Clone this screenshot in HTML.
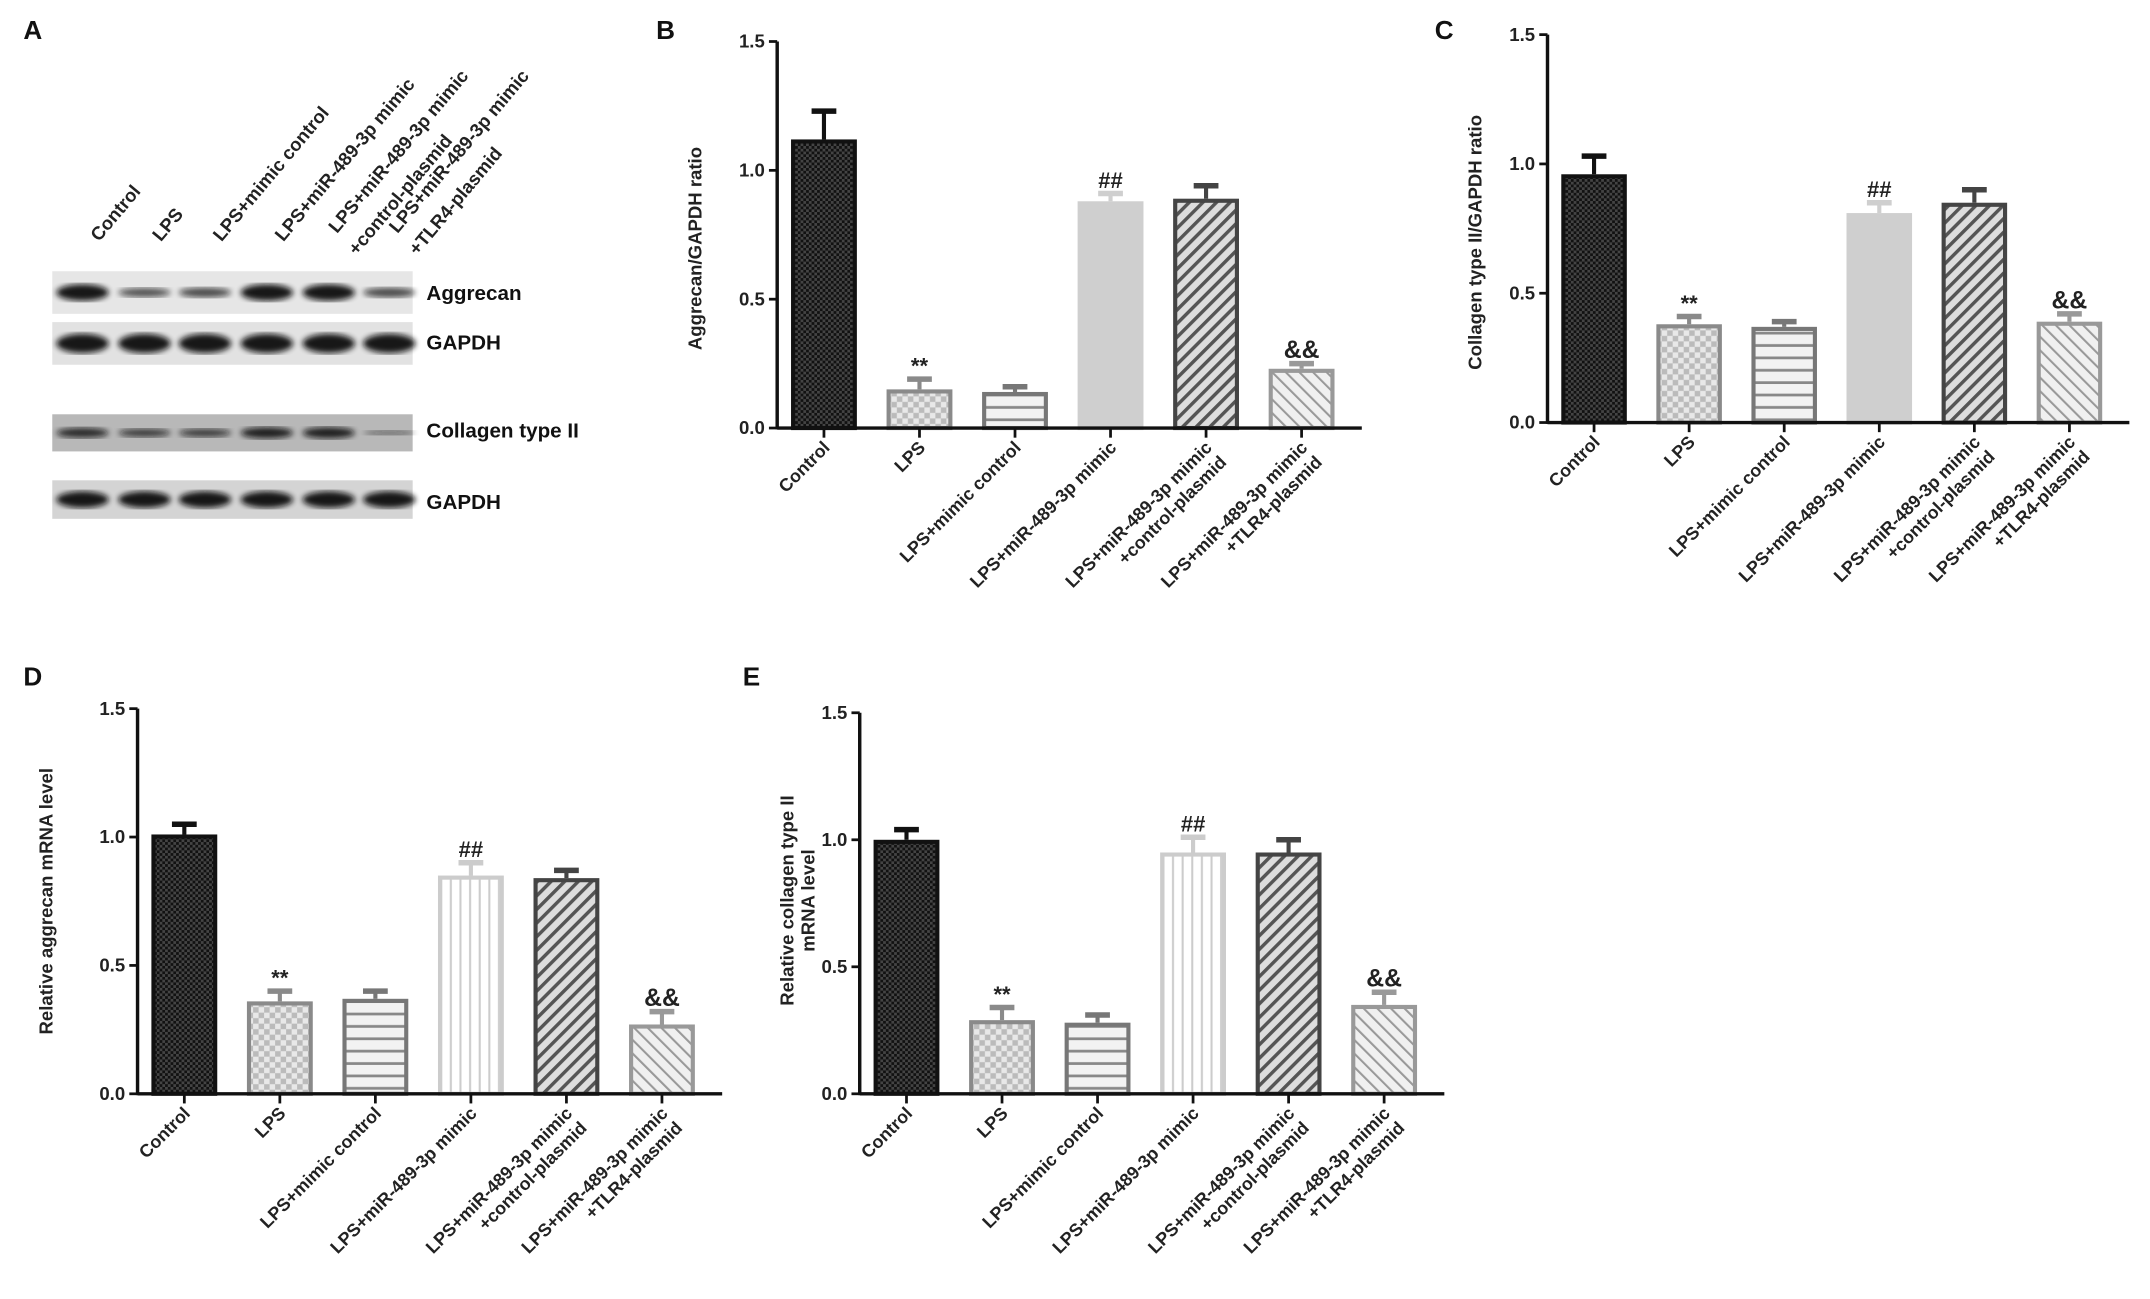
<!DOCTYPE html>
<html><head><meta charset="utf-8">
<style>
html,body{margin:0;padding:0;background:#fff;}
svg{display:block;font-family:"Liberation Sans",Arial,sans-serif;font-weight:bold;}
</style></head>
<body>
<svg id="fig" width="2150" height="1299" viewBox="0 0 1563 944" xmlns="http://www.w3.org/2000/svg">
<defs>
  <pattern id="pDark" patternUnits="userSpaceOnUse" width="4" height="4">
    <rect width="4" height="4" fill="#444"/><rect width="2" height="2" fill="#111"/><rect x="2" y="2" width="2" height="2" fill="#111"/>
  </pattern>
  <pattern id="pCheck" patternUnits="userSpaceOnUse" width="8" height="8">
    <rect width="8" height="8" fill="#bbb"/><rect width="4" height="4" fill="#e8e8e8"/><rect x="4" y="4" width="4" height="4" fill="#e8e8e8"/>
  </pattern>
  <pattern id="pHoriz" patternUnits="userSpaceOnUse" width="8" height="9">
    <rect width="8" height="9" fill="#f2f2f2"/><rect y="7" width="8" height="2" fill="#888"/>
  </pattern>
  <pattern id="pVert" patternUnits="userSpaceOnUse" width="7" height="8">
    <rect width="7" height="8" fill="#fff"/><rect x="5" width="1.5" height="8" fill="#ccc"/>
  </pattern>
  <pattern id="pDiag" patternUnits="userSpaceOnUse" width="7" height="7" patternTransform="rotate(45)">
    <rect width="7" height="7" fill="#ddd"/><rect width="2.5" height="7" fill="#555"/>
  </pattern>
  <pattern id="pBack" patternUnits="userSpaceOnUse" width="7" height="7" patternTransform="rotate(-45)">
    <rect width="7" height="7" fill="#f0f0f0"/><rect width="1.5" height="7" fill="#999"/>
  </pattern>
  <filter id="blur"><feGaussianBlur stdDeviation="2.2"/></filter>
</defs>
</svg>
<script>
const categories = ["Control","LPS","LPS+mimic control","LPS+miR-489-3p mimic","LPS+miR-489-3p mimic|+control-plasmid","LPS+miR-489-3p mimic|+TLR4-plasmid"];
const valuesB = [1.12,0.15,0.14,0.88,0.89,0.23];
const errorsB = [0.11,0.04,0.02,0.03,0.05,0.02];
const valuesC = [0.96,0.38,0.37,0.81,0.85,0.39];
const errorsC = [0.07,0.03,0.02,0.04,0.05,0.03];
const valuesD = [1.01,0.36,0.37,0.85,0.84,0.27];
const errorsD = [0.04,0.04,0.03,0.05,0.03,0.05];
const valuesE = [1.00,0.29,0.28,0.95,0.95,0.35];
const errorsE = [0.04,0.05,0.03,0.06,0.05,0.05];
const yTicks = [0.0,0.5,1.0,1.5];
const yTickLabels = ["0.0","0.5","1.0","1.5"];
const sigMarks = ["","**","","##","","&&"];
const aggrecanBands = [1.0,0.55,0.6,1.0,1.0,0.6];
const gapdhBands1 = [1,1,1,1,1,1];
const collagenBands = [0.8,0.65,0.65,0.9,0.9,0.35];
const gapdhBands2 = [1,1,1,1,1,1];

const NS="http://www.w3.org/2000/svg";
const svg=document.getElementById('fig');
function el(tag,attrs,parent){const e=document.createElementNS(NS,tag);for(const k in attrs)e.setAttribute(k,attrs[k]);(parent||svg).appendChild(e);return e;}
function txt(s,attrs,parent){const t=el('text',attrs,parent);t.textContent=s;return t;}

const styles=[
 {fill:"url(#pDark)",stroke:"#111"},
 {fill:"url(#pCheck)",stroke:"#8a8a8a"},
 {fill:"url(#pHoriz)",stroke:"#777"},
 {fill:"#cfcfcf",stroke:"#cfcfcf"},
 {fill:"url(#pDiag)",stroke:"#444"},
 {fill:"url(#pBack)",stroke:"#999"}
];

function chart(opt){
  const g=el('g',{});
  
  
  const x0=opt.x0,x1=opt.x1,y0=opt.y0,yTop=opt.yTop;
  const yScale=v=>y0-(v/1.5)*(y0-yTop);
  const span=x1-x0;
  const xScale=i=>x0+span*(0.08+i*0.1634);
  const bw=span*0.115;
  const L=txt(opt.letter,{x:opt.lx,y:opt.ly,'font-size':19,fill:'#111'},g);
  
  
  opt.values.forEach((v,i)=>{
    const st=Object.assign({},styles[i]);
    if(i===3&&opt.vert){st.fill="url(#pVert)";st.stroke="#ccc";}
    const cx=xScale(i),yv=yScale(v),ye=yScale(v+opt.errors[i]);
    const ln=el('line',{x1:cx,x2:cx,y1:yv,y2:ye,stroke:st.stroke,'stroke-width':3},g);
    
    
    const cap=el('line',{x1:cx-9,x2:cx+9,y1:ye,y2:ye,stroke:st.stroke,'stroke-width':4},g);
    
    
    const r=el('rect',{x:cx-bw/2+2,y:yv+1.5,width:bw-4,height:y0-yv-1.5,fill:st.fill,stroke:st.stroke,'stroke-width':3},g);
    
    
    if(sigMarks[i]){
      const s=txt(sigMarks[i],{x:cx,y:ye-4,'text-anchor':'middle','font-size':sigMarks[i]==='&&'?18:16,fill:'#222'},g);
      
      
    }
    const tk=el('line',{x1:cx,x2:cx,y1:y0,y2:y0+7,stroke:'#111','stroke-width':2},g);
    
    
    const parts=categories[i].split('|');
    parts.forEach((p,k)=>{
      const lx=cx+5+k*15*Math.SQRT1_2, ly=y0+15+k*15*Math.SQRT1_2;
      const t=txt(p,{x:lx,y:ly,'text-anchor':'end','font-size':13,fill:'#222','font-style':opt.italic?'italic':'normal',transform:`rotate(-45 ${lx} ${ly})`},g);
      
      
    });
  });
  const ya=el('line',{x1:x0,x2:x0,y1:yTop,y2:y0+1,stroke:'#111','stroke-width':2.5},g);
  
  
  const xa=el('line',{x1:x0,x2:x1,y1:y0,y2:y0,stroke:'#111','stroke-width':2.5},g);
  
  
  yTicks.forEach((v,i)=>{
    const yy=yScale(v);
    const t=el('line',{x1:x0-6,x2:x0,y1:yy,y2:yy,stroke:'#111','stroke-width':2},g);
    
    
    const l=txt(yTickLabels[i],{x:x0-9,y:yy+4.5,'text-anchor':'end','font-size':13.5,fill:'#222'},g);
    
    
  });
  const cy=(y0+yTop)/2+opt.titleShift;
  opt.title.forEach((tl,k)=>{
    const tx=opt.tx+k*15;
    const t=txt(tl,{x:tx,y:cy,'text-anchor':'middle','font-size':13.5,fill:'#222',transform:`rotate(-90 ${tx} ${cy})`},g);
    
    
  });
}

chart({name:'chart-b',letter:'B',lx:477,ly:28,x0:565,x1:990,y0:311,yTop:30,values:valuesB,errors:errorsB,title:['Aggrecan/GAPDH ratio'],tx:510,titleShift:10});
chart({name:'chart-c',letter:'C',lx:1043,ly:28,x0:1125,x1:1548,y0:307,yTop:25,values:valuesC,errors:errorsC,title:['Collagen type II/GAPDH ratio'],tx:1077,titleShift:10});
chart({name:'chart-d',letter:'D',lx:17,ly:498,x0:100,x1:525,y0:795,yTop:515,values:valuesD,errors:errorsD,title:['Relative aggrecan mRNA level'],tx:38,titleShift:0,vert:true});
chart({name:'chart-e',letter:'E',lx:540,ly:498,x0:625,x1:1050,y0:795,yTop:518,values:valuesE,errors:errorsE,title:['Relative collagen type II','mRNA level'],tx:577,titleShift:-2,vert:true});

const gA=el('g',{});


const la=txt('A',{x:17,y:28,'font-size':19,fill:'#111'},gA);


const laneX=[60,105,149,194,239,283];
const laneLabels=[["Control"],["LPS"],["LPS+mimic control"],["LPS+miR-489-3p mimic"],["LPS+miR-489-3p mimic","+control-plasmid"],["LPS+miR-489-3p mimic","+TLR4-plasmid"]];
laneLabels.forEach((parts,i)=>{
  parts.forEach((p,k)=>{
    const lx=laneX[i]+12+k*13*0.64+(parts.length>1&&k===0?-6:0), ly=176+k*13*0.77-(parts.length>1&&k===0?6:0);
    const t=txt(p,{x:lx,y:ly,'font-size':13.5,fill:'#222',transform:`rotate(-50 ${lx} ${ly})`},gA);
    
    
  });
});
function blot(y,h,bg,bands,bh,label,ly){
  const r=el('rect',{x:38,y:y,width:262,height:h,fill:bg},gA);
  
  
  bands.forEach((b,i)=>{
    const e=el('ellipse',{cx:laneX[i],cy:y+h/2,rx:19,ry:bh*b,fill:'#111',opacity:0.35+0.6*b,filter:'url(#blur)'},gA);
    
    
  });
  const t=txt(label,{x:310,y:ly,'font-size':15,fill:'#111'},gA);
  
  
}
blot(197,31,'#e6e6e6',aggrecanBands,6,'Aggrecan',218);
blot(234,31,'#e2e2e2',gapdhBands1,7,'GAPDH',254);
blot(301,27,'#b8b8b8',collagenBands,4.5,'Collagen type II',318);
blot(349,28,'#d4d4d4',gapdhBands2,6,'GAPDH',370);
</script>
</body></html>
